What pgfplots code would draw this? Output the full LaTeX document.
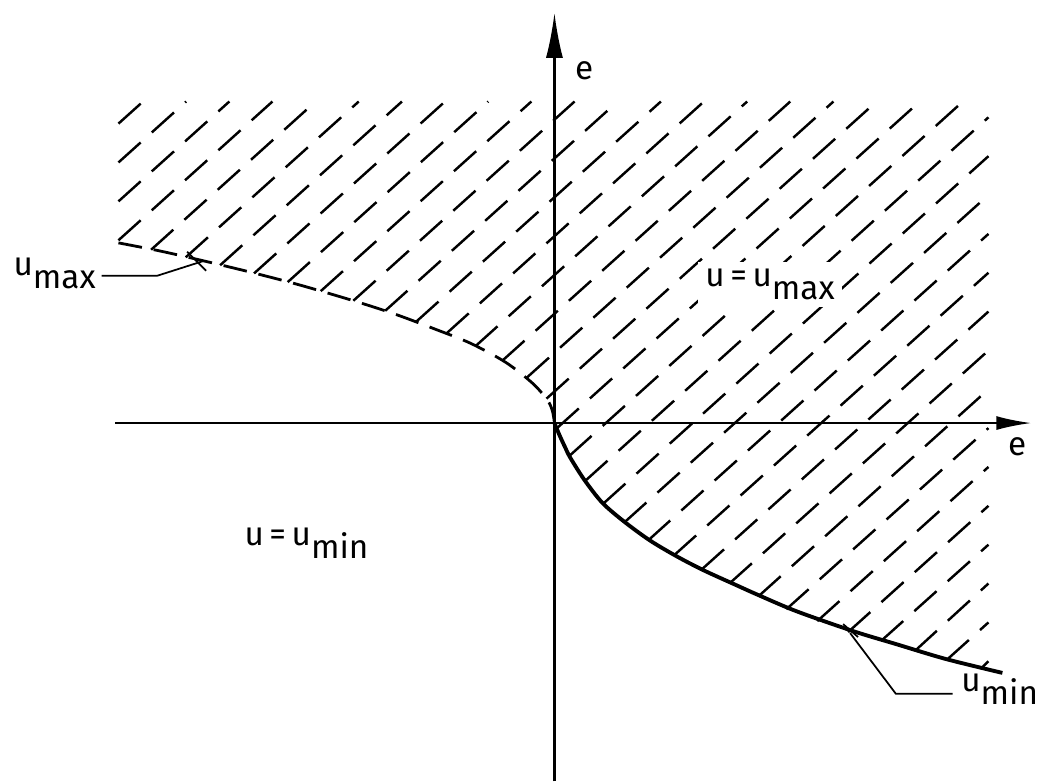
\documentclass[border=0pt]{standalone}
\usepackage{pgfplots}
\pgfplotsset{compat=1.18}
\usepackage{fontspec}
\setmainfont{Fira Sans}
\usetikzlibrary{arrows.meta}

\newcommand{\lab}{\fontsize{9.5}{11}\selectfont}
\newcommand{\sub}[1]{\raisebox{-3.6pt}{#1}}

\tikzset{
  hatch/.style={black, line width=0.7pt, dash pattern=on 3mm off 1.5mm},
  leader/.style={black, line width=0.5pt},
}

\begin{document}
\begin{tikzpicture}
\begin{axis}[
  x=0.01cm, y=0.01cm,
  xmin=-557, xmax=481, ymin=-360, ymax=425,
  hide axis, clip=false,
]
\path (axis cs:-557,-360) rectangle (axis cs:481,425);

% hatching above the switching curve (each line starts on the curve)
\addplot[hatch] coordinates {(-438,300.8) (-413.3,323)};
\addplot[hatch] coordinates {(-438,261.8) (-370.0,323)};
\addplot[hatch] coordinates {(-438,222.7) (-326.6,323)};
\addplot[hatch] coordinates {(-438,183.6) (-283.3,323)};
\addplot[hatch] coordinates {(-405.2,174.1) (-239.9,323)};
\addplot[hatch] coordinates {(-370.4,166.5) (-196.6,323)};
\addplot[hatch] coordinates {(-335.9,158.5) (-153.2,323)};
\addplot[hatch] coordinates {(-301.8,150.3) (-109.9,323)};
\addplot[hatch] coordinates {(-268.0,141.6) (-66.5,323)};
\addplot[hatch] coordinates {(-234.8,132.5) (-23.2,323)};
\addplot[hatch] coordinates {(-202.0,122.9) (20.2,323)};
\addplot[hatch] coordinates {(-170.0,112.8) (63.5,323)};
\addplot[hatch] coordinates {(-138.8,101.9) (106.9,323)};
\addplot[hatch] coordinates {(-108.4,90.1) (150.2,323)};
\addplot[hatch] coordinates {(-79.5,77.1) (193.6,323)};
\addplot[hatch] coordinates {(-52.4,62.6) (236.9,323)};
\addplot[hatch] coordinates {(-27.8,45.6) (280.3,323)};
\addplot[hatch] coordinates {(-8.0,24.5) (323.6,323)};
\addplot[hatch] coordinates {(2.2,-5.4) (367.0,323)};
\addplot[hatch] coordinates {(15,-33) (410.3,323)};
\addplot[hatch] coordinates {(31,-58) (436,307.1)};
\addplot[hatch] coordinates {(49,-81) (436,268.1)};
\addplot[hatch] coordinates {(70,-100) (436,229.1)};
\addplot[hatch] coordinates {(94,-118) (436,190.0)};
\addplot[hatch] coordinates {(120,-133) (436,151.0)};
\addplot[hatch] coordinates {(148,-147) (436,112.0)};
\addplot[hatch] coordinates {(176,-161) (436,72.9)};
\addplot[hatch] coordinates {(205,-174) (436,33.9)};
\addplot[hatch] coordinates {(233,-187) (436,-5.1)};
\addplot[hatch] coordinates {(264,-199) (436,-44.1)};
\addplot[hatch] coordinates {(295,-210) (436,-83.2)};
\addplot[hatch] coordinates {(328,-219) (436,-122.2)};
\addplot[hatch] coordinates {(362,-229) (436,-161.2)};
\addplot[hatch] coordinates {(394,-238) (436,-200.3)};
\addplot[hatch] coordinates {(428,-247) (436,-239.3)};

% switching curve, u_max branch (dashed)
\addplot[black, line width=0.8pt, dash pattern=on 2.4mm off 1.2mm, smooth] coordinates {
  (-438,181) (-397,173) (-357,164) (-307,152) (-257,139) (-199,122)
  (-159,109) (-119,94) (-84,80) (-49,61) (-22,40) (-7,23) (-2,12) (0,0)
};
% switching curve, u_min branch (solid)
\addplot[black, line width=1.1pt, smooth] coordinates {
  (0,0) (5,-12) (11,-25) (16,-35) (30,-57) (48,-80) (70,-99) (96,-118)
  (123,-134) (150,-148) (183,-163) (203,-172) (243,-189) (300,-209)
  (343,-222) (393,-237) (450,-251)
};

% axes
\addplot[black, line width=0.6pt, -{Latex[length=3.5mm,width=1.4mm]}] coordinates {(-441,0) (479,0)};
\addplot[black, line width=0.6pt, -{Latex[length=4.5mm,width=1.7mm]}] coordinates {(0,-360) (0,412)};

% leaders
\addplot[leader] coordinates {(-455,148) (-399,148) (-352,163)};
\addplot[leader] coordinates {(-369,172) (-350,153)};
\addplot[leader] coordinates {(297,-211) (343,-272) (400,-272)};
\addplot[leader] coordinates {(290,-202) (305,-215)};

% labels
\node[anchor=base west, inner sep=0pt] at (axis cs:20,345) {\lab e};
\node[anchor=base west, inner sep=0pt] at (axis cs:455,-33) {\lab e};
\node[anchor=base west, inner sep=2pt, fill=white] at (axis cs:144,137) {\lab u\,=\,u\sub{max}};
\node[anchor=base west, inner sep=0pt] at (axis cs:-544,148) {\lab u\sub{max}};
\node[anchor=base west, inner sep=0pt] at (axis cs:-312,-123) {\lab u\,=\,u\sub{min}};
\node[anchor=base west, inner sep=0pt] at (axis cs:408,-270) {\lab u\sub{min}};
\end{axis}
\end{tikzpicture}
\end{document}
